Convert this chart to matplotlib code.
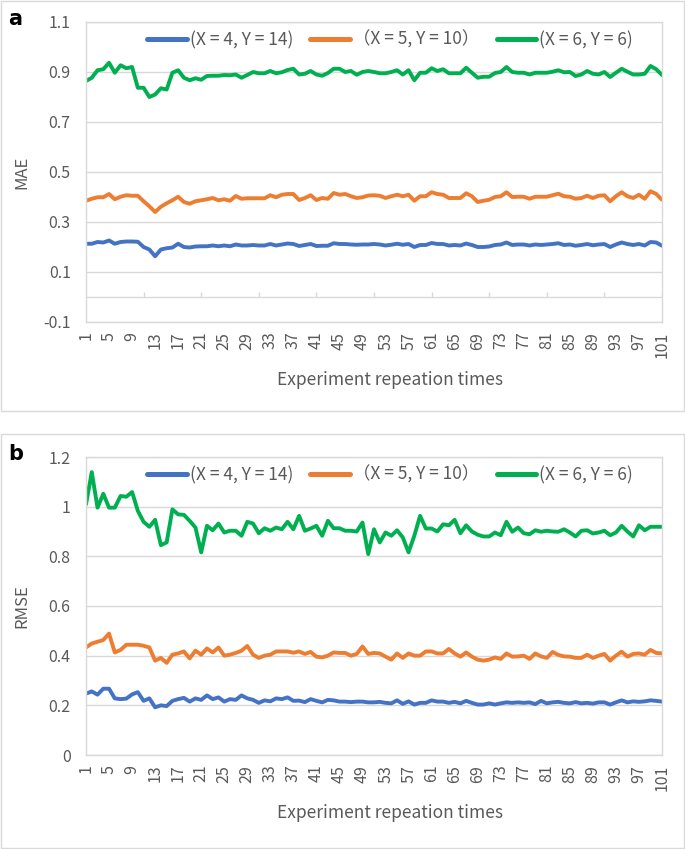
import matplotlib
matplotlib.use("Agg")
import matplotlib.pyplot as plt
from matplotlib.patches import Rectangle
import numpy as np

plt.rcParams['font.family'] = ['Noto Sans CJK SC', 'DejaVu Sans']

runs = np.arange(1, 102)
labels = ["(X = 4, Y = 14)", "（X = 5, Y = 10）", "(X = 6, Y = 6)"]

mae_x4 = [0.213, 0.213, 0.220, 0.218, 0.226, 0.213, 0.220, 0.222, 0.222, 0.221,
          0.200, 0.190, 0.163, 0.190, 0.195, 0.198, 0.213, 0.200, 0.198, 0.202,
          0.203, 0.203, 0.206, 0.203, 0.206, 0.203, 0.210, 0.206, 0.206, 0.208,
          0.206, 0.206, 0.212, 0.206, 0.210, 0.214, 0.212, 0.204, 0.208, 0.212,
          0.204, 0.205, 0.205, 0.215, 0.212, 0.212, 0.210, 0.209, 0.210, 0.210,
          0.212, 0.210, 0.206, 0.209, 0.213, 0.209, 0.212, 0.200, 0.208, 0.208,
          0.216, 0.212, 0.212, 0.206, 0.208, 0.206, 0.214, 0.208, 0.200, 0.200,
          0.202, 0.208, 0.210, 0.218, 0.208, 0.210, 0.210, 0.206, 0.210, 0.208,
          0.210, 0.212, 0.215, 0.208, 0.210, 0.205, 0.208, 0.212, 0.207, 0.210,
          0.212, 0.200, 0.210, 0.218, 0.212, 0.208, 0.212, 0.206, 0.220, 0.218, 0.205]
mae_x5 = [0.385, 0.393, 0.399, 0.399, 0.412, 0.391, 0.401, 0.407, 0.405, 0.405,
          0.383, 0.363, 0.340, 0.361, 0.375, 0.387, 0.401, 0.380, 0.373, 0.383,
          0.387, 0.391, 0.396, 0.387, 0.391, 0.385, 0.404, 0.393, 0.395, 0.395,
          0.395, 0.395, 0.407, 0.399, 0.409, 0.412, 0.412, 0.388, 0.396, 0.407,
          0.388, 0.396, 0.393, 0.416, 0.409, 0.412, 0.403, 0.396, 0.399, 0.406,
          0.407, 0.405, 0.396, 0.403, 0.409, 0.403, 0.409, 0.385, 0.403, 0.403,
          0.419, 0.412, 0.409, 0.396, 0.396, 0.396, 0.415, 0.403, 0.380, 0.385,
          0.389, 0.400, 0.403, 0.419, 0.400, 0.401, 0.401, 0.393, 0.401, 0.401,
          0.401, 0.407, 0.413, 0.403, 0.401, 0.393, 0.396, 0.405, 0.396, 0.405,
          0.407, 0.383, 0.403, 0.419, 0.403, 0.396, 0.409, 0.393, 0.423, 0.412, 0.389]
mae_x6 = [0.864, 0.877, 0.907, 0.911, 0.937, 0.897, 0.927, 0.915, 0.920, 0.837,
          0.837, 0.800, 0.810, 0.835, 0.830, 0.897, 0.907, 0.877, 0.867, 0.875,
          0.869, 0.884, 0.885, 0.885, 0.888, 0.887, 0.890, 0.877, 0.888, 0.900,
          0.895, 0.895, 0.904, 0.895, 0.899, 0.908, 0.913, 0.890, 0.893, 0.904,
          0.890, 0.885, 0.896, 0.913, 0.913, 0.900, 0.904, 0.889, 0.900, 0.904,
          0.900, 0.895, 0.895, 0.900, 0.907, 0.890, 0.907, 0.867, 0.897, 0.897,
          0.915, 0.904, 0.911, 0.895, 0.895, 0.895, 0.917, 0.897, 0.877, 0.881,
          0.881, 0.896, 0.900, 0.920, 0.900, 0.897, 0.897, 0.890, 0.897, 0.897,
          0.897, 0.901, 0.907, 0.899, 0.900, 0.884, 0.890, 0.904, 0.893, 0.890,
          0.900, 0.880, 0.897, 0.913, 0.901, 0.890, 0.890, 0.893, 0.924, 0.911, 0.888]

rmse_x4 = [0.247, 0.256, 0.243, 0.267, 0.267, 0.228, 0.225, 0.227, 0.244, 0.253,
           0.218, 0.228, 0.192, 0.200, 0.197, 0.218, 0.225, 0.230, 0.215, 0.228,
           0.222, 0.240, 0.225, 0.232, 0.215, 0.225, 0.222, 0.240, 0.228, 0.222,
           0.210, 0.220, 0.216, 0.228, 0.225, 0.232, 0.218, 0.219, 0.213, 0.225,
           0.218, 0.212, 0.222, 0.220, 0.215, 0.215, 0.213, 0.215, 0.215, 0.212,
           0.212, 0.214, 0.210, 0.208, 0.220, 0.206, 0.216, 0.203, 0.210, 0.210,
           0.220, 0.215, 0.215, 0.210, 0.214, 0.208, 0.218, 0.210, 0.203, 0.203,
           0.208, 0.203, 0.208, 0.212, 0.210, 0.212, 0.210, 0.212, 0.205, 0.218,
           0.208, 0.212, 0.214, 0.210, 0.208, 0.213, 0.208, 0.210, 0.207, 0.212,
           0.212, 0.203, 0.212, 0.220, 0.212, 0.216, 0.214, 0.216, 0.220, 0.218, 0.215]
rmse_x5 = [0.433, 0.449, 0.456, 0.463, 0.489, 0.413, 0.423, 0.444, 0.444, 0.444,
           0.440, 0.433, 0.380, 0.391, 0.371, 0.404, 0.409, 0.417, 0.389, 0.420,
           0.404, 0.429, 0.413, 0.433, 0.400, 0.404, 0.411, 0.420, 0.439, 0.404,
           0.391, 0.400, 0.404, 0.417, 0.417, 0.417, 0.412, 0.417, 0.407, 0.415,
           0.396, 0.393, 0.400, 0.413, 0.411, 0.411, 0.400, 0.407, 0.437, 0.407,
           0.411, 0.409, 0.396, 0.384, 0.409, 0.391, 0.409, 0.400, 0.400, 0.417,
           0.417, 0.409, 0.409, 0.427, 0.409, 0.396, 0.413, 0.396, 0.384, 0.380,
           0.384, 0.393, 0.387, 0.409, 0.396, 0.397, 0.400, 0.387, 0.409, 0.397,
           0.391, 0.415, 0.403, 0.397, 0.396, 0.391, 0.391, 0.404, 0.391, 0.400,
           0.407, 0.380, 0.400, 0.416, 0.396, 0.407, 0.409, 0.404, 0.423, 0.411, 0.409]
rmse_x6 = [1.009, 1.139, 0.996, 1.052, 0.996, 0.996, 1.043, 1.040, 1.059, 0.983,
           0.939, 0.919, 0.947, 0.845, 0.856, 0.989, 0.969, 0.967, 0.943, 0.916,
           0.816, 0.923, 0.905, 0.932, 0.896, 0.903, 0.903, 0.883, 0.939, 0.932,
           0.893, 0.913, 0.903, 0.916, 0.909, 0.939, 0.909, 0.963, 0.903, 0.912,
           0.923, 0.883, 0.943, 0.913, 0.913, 0.903, 0.903, 0.900, 0.936, 0.809,
           0.909, 0.856, 0.896, 0.883, 0.905, 0.876, 0.816, 0.883, 0.963, 0.912,
           0.912, 0.900, 0.929, 0.925, 0.947, 0.893, 0.925, 0.900, 0.887, 0.880,
           0.880, 0.896, 0.885, 0.939, 0.899, 0.916, 0.893, 0.889, 0.905, 0.899,
           0.903, 0.900, 0.899, 0.909, 0.896, 0.880, 0.903, 0.905, 0.892, 0.896,
           0.903, 0.885, 0.896, 0.923, 0.900, 0.880, 0.925, 0.905, 0.919, 0.919, 0.919]

colors = ['#4472C4', '#ED7D31', '#00B050']
grid_c = '#D9D9D9'
text_c = '#595959'
W, H = 685, 849

fig = plt.figure(figsize=(W / 100, H / 100), dpi=100)

# panel frames
for y0, y1 in [(1, 411), (434, 848)]:
    fig.patches.append(Rectangle((1 / W, 1 - y1 / H), (W - 2) / W, (y1 - y0) / H,
                                 transform=fig.transFigure, fill=False,
                                 edgecolor=grid_c, lw=1))

def panel(top, bottom, series, ylim, yticks, yticklabels, ylabel, letter, axis_zero):
    ax = fig.add_axes([86 / W, 1 - bottom / H, (662 - 86) / W, (bottom - top) / H])
    for vals, c, lab in zip(series, colors, labels):
        ax.plot(runs, vals, color=c, lw=2.8, label=lab, solid_joinstyle='round',
                solid_capstyle='round')
    ax.set_xlim(1, 101)
    ax.set_ylim(*ylim)
    ax.set_yticks(yticks)
    ax.set_yticklabels(yticklabels)
    ax.set_xticks(runs[::4])
    ax.set_xticklabels([str(r) for r in runs[::4]], rotation=90)
    ax.tick_params(length=0, labelsize=11.5, labelcolor=text_c)
    ax.tick_params(axis='y', pad=11)
    ax.tick_params(axis='x', pad=7)
    ax.grid(axis='y', color=grid_c, lw=1)
    ax.set_axisbelow(True)
    for s in ax.spines.values():
        s.set_color(grid_c)
        s.set_linewidth(1)
    if axis_zero:
        ax.axhline(0, color=grid_c, lw=1, zorder=0)
        ax.vlines(runs[10::10], 0, 0.02, color=grid_c, lw=1, zorder=0)
    fig.text(22 / W, 1 - ((top + bottom) / 2) / H, ylabel, rotation=90,
             ha='center', va='center', fontsize=12, color=text_c)
    fig.text(390 / W, 1 - (bottom + 58) / H, 'Experiment repeation times',
             ha='center', va='center', fontsize=12.5, color=text_c)
    fig.text(8 / W, 1 - (top - 3) / H, letter, ha='left', va='center',
             fontsize=15, fontweight='bold', family='DejaVu Sans')
    leg = ax.legend(loc='center', bbox_to_anchor=(390 / W, 1 - (top + 18) / H),
                    bbox_transform=fig.transFigure, ncol=3, frameon=False,
                    fontsize=12.5, handlelength=2.3, handletextpad=0.15,
                    columnspacing=1.0)
    for t in leg.get_texts():
        t.set_color(text_c)
    for l in leg.get_lines():
        l.set_linewidth(3.6)
    return ax

panel(22, 322, [mae_x4, mae_x5, mae_x6], (-0.1, 1.1),
      np.arange(-0.1, 1.15, 0.2), ['-0.1', '0.1', '0.3', '0.5', '0.7', '0.9', '1.1'],
      'MAE', 'a', True)
panel(457, 755, [rmse_x4, rmse_x5, rmse_x6], (0, 1.2),
      np.arange(0, 1.25, 0.2), ['0', '0.2', '0.4', '0.6', '0.8', '1', '1.2'],
      'RMSE', 'b', False)

fig.savefig('out.png', dpi=100)
